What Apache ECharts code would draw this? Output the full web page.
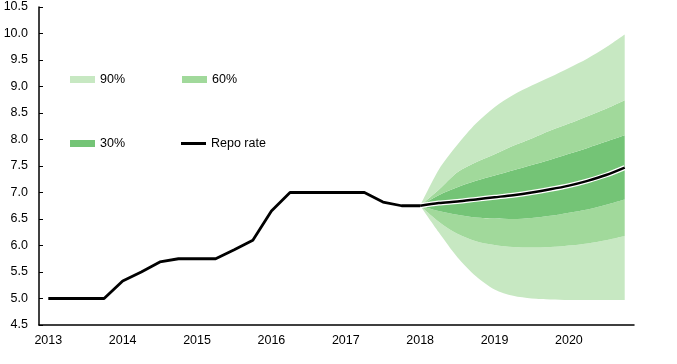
<!DOCTYPE html>
<html><head><meta charset="utf-8">
<script src="https://cdn.jsdelivr.net/npm/echarts@6/dist/echarts.min.js"></script>
<style>html,body{margin:0;padding:0;background:#fff}#c{width:677px;height:364px}</style>
</head><body><div id="c"></div>
<script>
var years = ['2013','2014','2015','2016','2017','2018','2019','2020'];
var quarters = ['Q1','Q2','Q3','Q4'];
var yTicks = [4.5,5.0,5.5,6.0,6.5,7.0,7.5,8.0,8.5,9.0,9.5,10.0,10.5];
// Repo rate outcome, 2013Q1..2018Q1
var repoHistory = [5.0,5.0,5.0,5.0,5.33,5.5,5.69,5.75,5.75,5.75,5.92,6.1,6.65,7.0,7.0,7.0,7.0,7.0,6.82,6.75,6.75];
// Forecast, 2018Q1..2020Q4
var repoForecast = [6.75,6.80,6.83,6.87,6.91,6.95,7.00,7.06,7.13,7.22,7.33,7.47];
var lo90 = [6.75,6.25,5.78,5.42,5.17,5.05,5.00,4.98,4.97,4.97,4.97,4.97];
var lo60 = [6.75,6.45,6.22,6.08,6.01,5.97,5.96,5.97,6.00,6.04,6.10,6.18];
var lo30 = [6.75,6.65,6.58,6.53,6.51,6.50,6.52,6.56,6.62,6.68,6.77,6.87];
var hi30 = [6.75,6.95,7.10,7.22,7.32,7.42,7.52,7.62,7.73,7.84,7.96,8.08];
var hi60 = [6.75,7.05,7.38,7.57,7.72,7.88,8.02,8.17,8.30,8.44,8.58,8.74];
var hi90 = [6.75,7.43,7.90,8.30,8.61,8.84,9.02,9.18,9.35,9.53,9.74,9.98];

var c90 = '#c7e8c2', c60 = '#a1d99b', c30 = '#74c476';
var categories = [];
years.forEach(function(y){ quarters.forEach(function(q){ categories.push(y + ' ' + q); }); });
var fStart = repoHistory.length - 1;
function padFc(arr){ var out = []; for (var i=0;i<fStart;i++) out.push('-'); return out.concat(arr.map(function(v){ return +v.toFixed(4); })); }
function padHist(arr){ var out = arr.slice(); while (out.length < categories.length) out.push('-'); return out; }
function diff(a,b){ return a.map(function(v,i){ return v - b[i]; }); }

var sm = 0.3;
function band(name, vals, color){
  return {name:name, type:'line', stack:'fan', smooth:sm, symbol:'none', data:padFc(vals),
    lineStyle:{width:0, opacity:0}, itemStyle:{color:color}, areaStyle:{color:color, opacity:1}, z:1, silent:true};
}
var series = [
  {name:'base', type:'line', stack:'fan', smooth:sm, symbol:'none', data:padFc(lo90), lineStyle:{width:0, opacity:0}, z:1, silent:true},
  band('90%', diff(lo60,lo90), c90),
  band('60%', diff(lo30,lo60), c60),
  band('30%', diff(hi30,lo30), c30),
  band('60%', diff(hi60,hi30), c60),
  band('90%', diff(hi90,hi60), c90),
  {name:'Repo rate', type:'line', symbol:'none', data:padHist(repoHistory), itemStyle:{color:'#000'}, lineStyle:{color:'#000', width:2.8}, z:5},
  {name:'Repo rate', type:'line', symbol:'none', smooth:sm, data:padFc(repoForecast), itemStyle:{color:'#000'}, lineStyle:{color:'#fff', width:5}, z:4},
  {name:'Repo rate', type:'line', symbol:'none', smooth:sm, data:padFc(repoForecast), itemStyle:{color:'#000'}, lineStyle:{color:'#000', width:2.5}, z:5}
];

var font = 'Liberation Sans, Arial, sans-serif';
function leg(name, left, top, color, h){
  return {data:[{name:name, icon:'rect', itemStyle:{color:color}}], left:left, top:top, padding:0,
    itemWidth:25, itemHeight:h, selectedMode:false, textStyle:{fontFamily:font, fontSize:12.5, color:'#000'}};
}
var chart = echarts.init(document.getElementById('c'));
chart.setOption({
  animation:false,
  grid:{left:39, right:43, top:7, bottom:39},
  legend:[
    leg('90%', 70, 73, c90, 7),
    leg('60%', 182, 73, c60, 7),
    leg('30%', 70, 137, c30, 7),
    leg('Repo rate', 181, 137, '#000', 3)
  ],
  xAxis:{type:'category', data:categories, boundaryGap:true,
    axisLine:{lineStyle:{color:'#000', width:1.5}},
    axisTick:{inside:true, length:5, interval:3, lineStyle:{color:'#000'}},
    splitLine:{show:false},
    axisLabel:{fontFamily:font, fontSize:12.5, color:'#000', margin:9, interval:3,
      formatter:function(v){ return v.slice(0,4); }}
  },
  yAxis:{type:'value', min:yTicks[0], max:yTicks[yTicks.length-1], interval:0.5,
    axisLine:{show:true, lineStyle:{color:'#000', width:1.5}},
    axisTick:{show:true, inside:true, length:4, lineStyle:{color:'#000'}},
    splitLine:{show:false},
    axisLabel:{fontFamily:font, fontSize:12.5, color:'#000', margin:11,
      formatter:function(v){ return v.toFixed(1); }}
  },
  series:series
});
</script></body></html>
